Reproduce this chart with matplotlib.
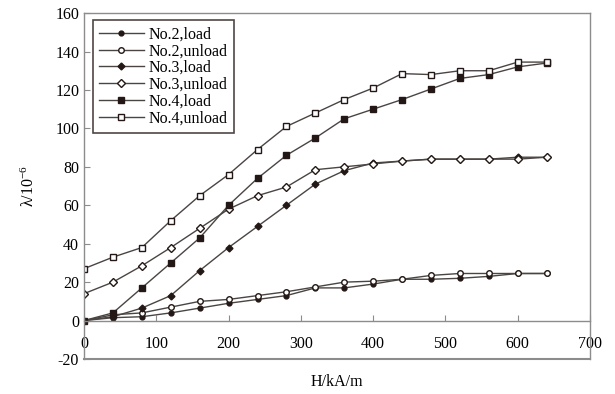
import matplotlib
matplotlib.use("Agg")
import matplotlib.pyplot as plt

plt.rcParams['font.family'] = ['Liberation Serif', 'DejaVu Serif']
plt.rcParams['mathtext.fontset'] = 'custom'
plt.rcParams['mathtext.rm'] = 'Liberation Serif'
plt.rcParams['axes.unicode_minus'] = False

H = [0, 40, 80, 120, 160, 200, 240, 280, 320, 360, 400, 440, 480, 520, 560, 600, 640]

no2_load = [0, 1.5, 2, 4, 6.5, 9, 11, 13, 17, 17, 19, 21.5, 21.5, 22, 23, 24.5, 24.5]
no2_unload = [0, 3, 4, 7, 10, 11, 13, 15, 17.5, 20, 20.5, 21.5, 23.5, 24.5, 24.5, 24.5, 24.5]
no3_load = [0, 2, 6.5, 13, 26, 38, 49, 60, 71, 78, 82, 83, 84, 84, 84, 85, 85]
no3_unload = [14, 20, 28.5, 38, 48, 58, 65, 69.5, 78.5, 80, 81.5, 83, 84, 84, 84, 84, 85]
no4_load = [0, 4, 17, 30, 43, 60, 74, 86, 95, 105, 110, 115, 120.5, 126, 128, 132, 134]
no4_unload = [27, 33, 38, 52, 65, 76, 89, 101, 108, 115, 121, 128.5, 128, 130, 130, 134.5, 134.5]

labels = ['No.2,load', 'No.2,unload', 'No.3,load', 'No.3,unload', 'No.4,load', 'No.4,unload']
series = [no2_load, no2_unload, no3_load, no3_unload, no4_load, no4_unload]
markers = ['o', 'o', 'D', 'D', 's', 's']
msizes = [3.5, 4, 3.5, 4, 5, 5]
filled = [True, False, True, False, True, False]

ink = '#231815'

fig = plt.figure(figsize=(6.15, 3.94), dpi=100)
ax = fig.add_axes([0.1366, 0.0888, 0.8228, 0.878])

for y, lab, m, ms, f in zip(series, labels, markers, msizes, filled):
    ax.plot(H, y, color='#4a4543', lw=1.0, marker=m, ms=ms,
            mfc=ink if f else 'white', mec=ink, mew=1.0, label=lab)

ax.set_xlim(0, 700)
ax.set_ylim(-20, 160)
ax.set_xticks(range(0, 701, 100))
ax.set_yticks(range(-20, 161, 20))

for s in ax.spines.values():
    s.set_color('#8c8c8c')
    s.set_linewidth(1.0)
ax.spines['bottom'].set_position(('data', 0))
ax.axhline(-20, color='#8c8c8c', lw=1.5, clip_on=False)

ax.tick_params(axis='both', direction='in', length=4, color='#8c8c8c',
               labelsize=11.5, labelcolor='black')
ax.tick_params(axis='x', pad=11)

ax.set_xlabel('H/kA/m', fontsize=11.5, labelpad=16)
ax.set_ylabel('$\\mathregular{λ/10^{-6}}$', fontsize=11.5, labelpad=12)

leg = ax.legend(loc='upper left', bbox_to_anchor=(0.017, 0.98), fontsize=11.5,
                frameon=True, fancybox=False, edgecolor=ink, handlelength=2.8,
                handletextpad=0.3, labelspacing=0.05, borderpad=0.4,
                borderaxespad=0)
leg.get_frame().set_linewidth(1.2)

fig.savefig('out.png', dpi=100)
